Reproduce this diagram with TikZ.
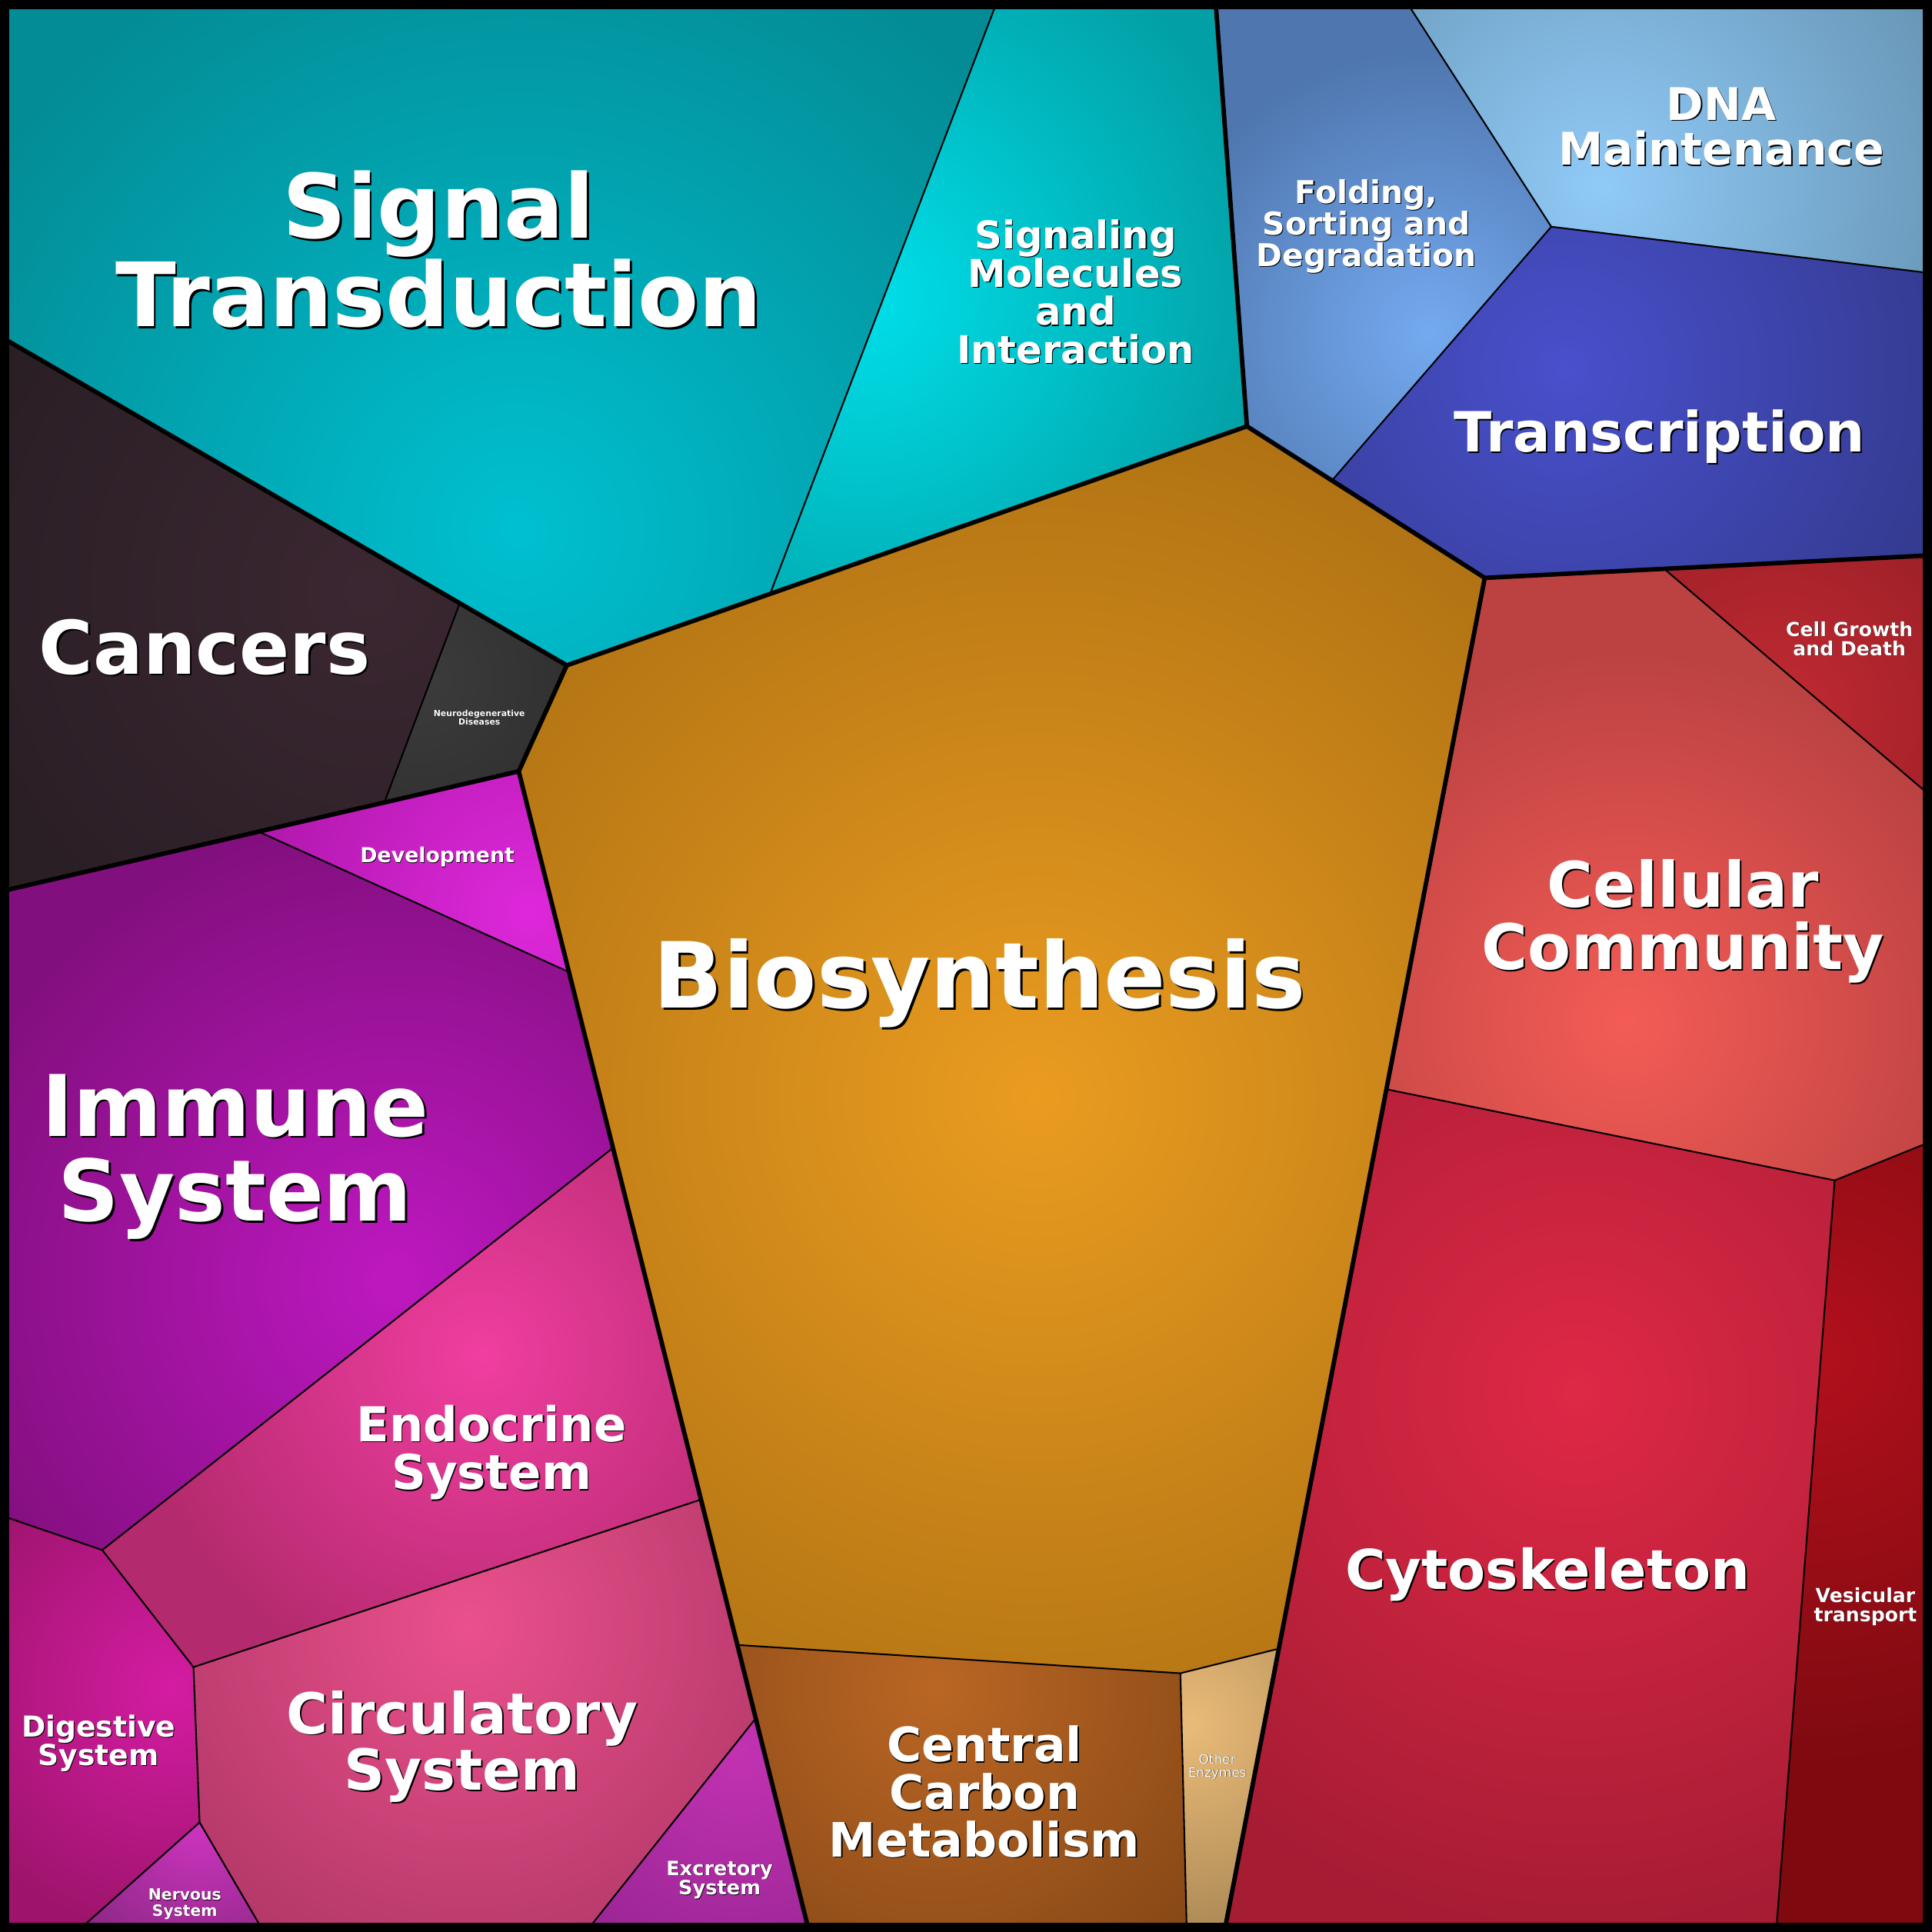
\documentclass[tikz,border=0pt]{standalone}
\usepackage{fontspec}
\setmainfont{DejaVu Sans}
\usetikzlibrary{calc}
\definecolor{stIn}{HTML}{00C0D0}\definecolor{stOut}{HTML}{038C96}
\definecolor{smIn}{HTML}{00E0EA}\definecolor{smOut}{HTML}{02A0A6}
\definecolor{foIn}{HTML}{74AAF0}\definecolor{foOut}{HTML}{4F76AE}
\definecolor{dnIn}{HTML}{90CAF7}\definecolor{dnOut}{HTML}{6896B6}
\definecolor{trIn}{HTML}{4850CC}\definecolor{trOut}{HTML}{333A8E}
\definecolor{caIn}{HTML}{3B2731}\definecolor{caOut}{HTML}{2B1F26}
\definecolor{neIn}{HTML}{3C3C3C}\definecolor{neOut}{HTML}{2E2E2E}
\definecolor{deIn}{HTML}{DE28DA}\definecolor{deOut}{HTML}{B018AC}
\definecolor{imIn}{HTML}{BE18C0}\definecolor{imOut}{HTML}{820F7E}
\definecolor{enIn}{HTML}{F03EA0}\definecolor{enOut}{HTML}{B42A6E}
\definecolor{ciIn}{HTML}{EA508C}\definecolor{ciOut}{HTML}{B23868}
\definecolor{diIn}{HTML}{D41CA2}\definecolor{diOut}{HTML}{9E146C}
\definecolor{nvIn}{HTML}{CE34C0}\definecolor{nvOut}{HTML}{8E2886}
\definecolor{exIn}{HTML}{C232B2}\definecolor{exOut}{HTML}{9C2696}
\definecolor{biIn}{HTML}{EA9C20}\definecolor{biOut}{HTML}{AA6E12}
\definecolor{ccIn}{HTML}{BA6624}\definecolor{ccOut}{HTML}{874816}
\definecolor{oeIn}{HTML}{EABB78}\definecolor{oeOut}{HTML}{AC8A56}
\definecolor{cmIn}{HTML}{F45C56}\definecolor{cmOut}{HTML}{BC4242}
\definecolor{cgIn}{HTML}{C22A32}\definecolor{cgOut}{HTML}{9E2028}
\definecolor{cyIn}{HTML}{DE2846}\definecolor{cyOut}{HTML}{A51C33}
\definecolor{veIn}{HTML}{B2101C}\definecolor{veOut}{HTML}{7E0A10}
\newcommand\cellfill[5]{\begin{scope}\clip #1;\fill[#3] #1;\shade[inner color=#2,outer color=#3] #4 circle (#5);\end{scope}}
\newcommand\lbl[5]{%
 \node[lbl, text=black, font=#4\fontsize{#3}{#3}\selectfont, xshift=#3*0.025pt, yshift=-#3*0.025pt] (#1-sh) at #2 {#5};
 \node[lbl, text=white, font=#4\fontsize{#3}{#3}\selectfont] (#1) at #2 {#5};}
\tikzset{
 lbl/.style={inner sep=0pt, anchor=base, align=center},
 thinline/.style={draw=black, line width=1.3pt, line join=round, line cap=round},
 thickline/.style={draw=black, line width=3.6pt, line join=round, line cap=round}
}
\begin{document}
\begin{tikzpicture}[x=1pt,y=-1pt]
\useasboundingbox (0,0) rectangle (1568,1568);
\fill[black] (0,0) rectangle (1568,1568);
% frame corners
\coordinate (TL) at (7,7); \coordinate (TR) at (1561,7);
\coordinate (BR) at (1561,1561); \coordinate (BL) at (7,1561);
\coordinate (a1) at (807,7); \coordinate (a2) at (987,7); \coordinate (a3) at (1145,7);
\coordinate (r1) at (1561,221); \coordinate (r2) at (1561,451);
\coordinate (r3) at (1561,641); \coordinate (r4) at (1561,929);
\coordinate (b1) at (1442,1561); \coordinate (b2) at (995,1561); \coordinate (b3) at (963,1561);
\coordinate (b4) at (655,1561); \coordinate (b5) at (481,1561); \coordinate (b6) at (210,1561);
\coordinate (b7) at (70,1561);
\coordinate (l1) at (7,1232); \coordinate (l2) at (7,722); \coordinate (l3) at (7,277);
% interior
\coordinate (v1) at (460,540); \coordinate (v2) at (625,482); \coordinate (v3) at (1012,346);
\coordinate (v4) at (1081,390); \coordinate (v5) at (1205,469); \coordinate (v6) at (1259,184);
\coordinate (v7) at (1351,462); \coordinate (v8) at (1125,884); \coordinate (v9) at (1489,958);
\coordinate (v10) at (1038,1338); \coordinate (v11) at (958,1358); \coordinate (v12) at (598,1335);
\coordinate (v13) at (613,1395); \coordinate (v14) at (569,1217); \coordinate (v15) at (497,932);
\coordinate (v16) at (462,789); \coordinate (v17) at (421,626); \coordinate (v18) at (312,651);
\coordinate (v19) at (373,490); \coordinate (v20) at (210,675); \coordinate (v21) at (83,1258);
\coordinate (v22) at (157,1353); \coordinate (v23) at (162,1479);
% cells
\cellfill{(l3)--(TL)--(a1)--(v2)--(v1)--cycle}{stIn}{stOut}{(420,430)}{520}
\cellfill{(a1)--(a2)--(v3)--(v2)--cycle}{smIn}{smOut}{(700,240)}{330}
\cellfill{(a2)--(a3)--(v6)--(v4)--(v3)--cycle}{foIn}{foOut}{(1160,270)}{230}
\cellfill{(a3)--(TR)--(r1)--(v6)--cycle}{dnIn}{dnOut}{(1300,150)}{300}
\cellfill{(v6)--(r1)--(r2)--(v7)--(v5)--(v4)--cycle}{trIn}{trOut}{(1270,300)}{330}
\cellfill{(l3)--(v19)--(v18)--(l2)--cycle}{caIn}{caOut}{(300,480)}{330}
\cellfill{(v19)--(v1)--(v17)--(v18)--cycle}{neIn}{neOut}{(340,550)}{150}
\cellfill{(v20)--(v17)--(v16)--cycle}{deIn}{deOut}{(430,740)}{230}
\cellfill{(l2)--(v20)--(v16)--(v15)--(v21)--(l1)--cycle}{imIn}{imOut}{(320,1040)}{380}
\cellfill{(v21)--(v15)--(v14)--(v22)--cycle}{enIn}{enOut}{(390,1100)}{280}
\cellfill{(v22)--(v14)--(v13)--(b5)--(b6)--(v23)--cycle}{ciIn}{ciOut}{(380,1320)}{300}
\cellfill{(l1)--(v21)--(v22)--(v23)--(b7)--(BL)--cycle}{diIn}{diOut}{(140,1370)}{200}
\cellfill{(v23)--(b6)--(b7)--cycle}{nvIn}{nvOut}{(162,1480)}{120}
\cellfill{(v13)--(b4)--(b5)--cycle}{exIn}{exOut}{(600,1420)}{180}
\cellfill{(v1)--(v2)--(v3)--(v4)--(v5)--(v8)--(v10)--(v11)--(v12)--(v17)--cycle}{biIn}{biOut}{(840,890)}{620}
\cellfill{(v12)--(v11)--(b3)--(b4)--cycle}{ccIn}{ccOut}{(760,1370)}{280}
\cellfill{(v11)--(v10)--(b2)--(b3)--cycle}{oeIn}{oeOut}{(965,1400)}{170}
\cellfill{(v5)--(v7)--(r3)--(r4)--(v9)--(v8)--cycle}{cmIn}{cmOut}{(1320,830)}{300}
\cellfill{(v7)--(r2)--(r3)--cycle}{cgIn}{cgOut}{(1440,580)}{180}
\cellfill{(v8)--(v9)--(b1)--(b2)--(v10)--cycle}{cyIn}{cyOut}{(1280,1130)}{450}
\cellfill{(v9)--(r4)--(BR)--(b1)--cycle}{veIn}{veOut}{(1470,1100)}{330}
% thin borders
\draw[thinline] (v2)--(a1);
\draw[thinline] (a3)--(v6)--(v4);
\draw[thinline] (v6)--(r1);
\draw[thinline] (v7)--(r3);
\draw[thinline] (v8)--(v9)--(r4);
\draw[thinline] (v9)--(b1);
\draw[thinline] (v12)--(v11)--(v10);
\draw[thinline] (v11)--(b3);
\draw[thinline] (v19)--(v18);
\draw[thinline] (v20)--(v16);
\draw[thinline] (l1)--(v21)--(v15);
\draw[thinline] (v21)--(v22)--(v14);
\draw[thinline] (v22)--(v23)--(b7);
\draw[thinline] (v23)--(b6);
\draw[thinline] (v13)--(b5);
% thick borders
\draw[thickline] (l3)--(v1)--(v3)--(a2);
\draw[thickline] (v3)--(v5)--(r2);
\draw[thickline] (v5)--(b2);
\draw[thickline] (v1)--(v17)--(b4);
\draw[thickline] (v17)--(l2);
% frame
\draw[black, line width=7.5pt] (3.75,3.75) rectangle (1564.25,1564.25);
% labels (anchor = baseline of last line)
\lbl{st}{(356,265)}{72}{\bfseries}{Signal\\Transduction}
\lbl{sm}{(873,295)}{31}{\bfseries}{Signaling\\Molecules\\and\\Interaction}
\lbl{fo}{(1109,216)}{25.5}{\bfseries}{Folding,\\Sorting and\\Degradation}
\lbl{dn}{(1397,134)}{36.5}{\bfseries}{DNA\\Maintenance}
\lbl{tr}{(1347,367)}{45}{\bfseries}{Transcription}
\lbl{ca}{(166,547)}{60}{\bfseries}{Cancers}
\lbl{ne}{(389,588)}{6.8}{\bfseries}{Neurodegenerative\\Diseases}
\lbl{de}{(355,700)}{16.7}{\bfseries}{Development}
\lbl{im}{(191,991)}{69}{\bfseries}{Immune\\System}
\lbl{en}{(399,1209)}{39}{\bfseries}{Endocrine\\System}
\lbl{ci}{(375,1453)}{46}{\bfseries}{Circulatory\\System}
\lbl{di}{(80,1433)}{23.5}{\bfseries}{Digestive\\System}
\lbl{nv}{(150,1555)}{12.7}{\bfseries}{Nervous\\System}
\lbl{ex}{(584,1538)}{16}{\bfseries}{Excretory\\System}
\lbl{bi}{(795,818)}{74}{\bfseries}{Biosynthesis}
\lbl{cc}{(799,1507)}{38.5}{\bfseries}{Central\\Carbon\\Metabolism}
\lbl{oe}{(988,1442)}{10.5}{}{Other\\Enzymes}
\lbl{cm}{(1366,787)}{51}{\bfseries}{Cellular\\Community}
\lbl{cg}{(1501,532)}{15.7}{\bfseries}{Cell Growth\\and Death}
\lbl{cy}{(1256,1290)}{44.6}{\bfseries}{Cytoskeleton}
\lbl{ve}{(1514,1316)}{15.7}{\bfseries}{Vesicular\\transport}
\end{tikzpicture}
\end{document}
